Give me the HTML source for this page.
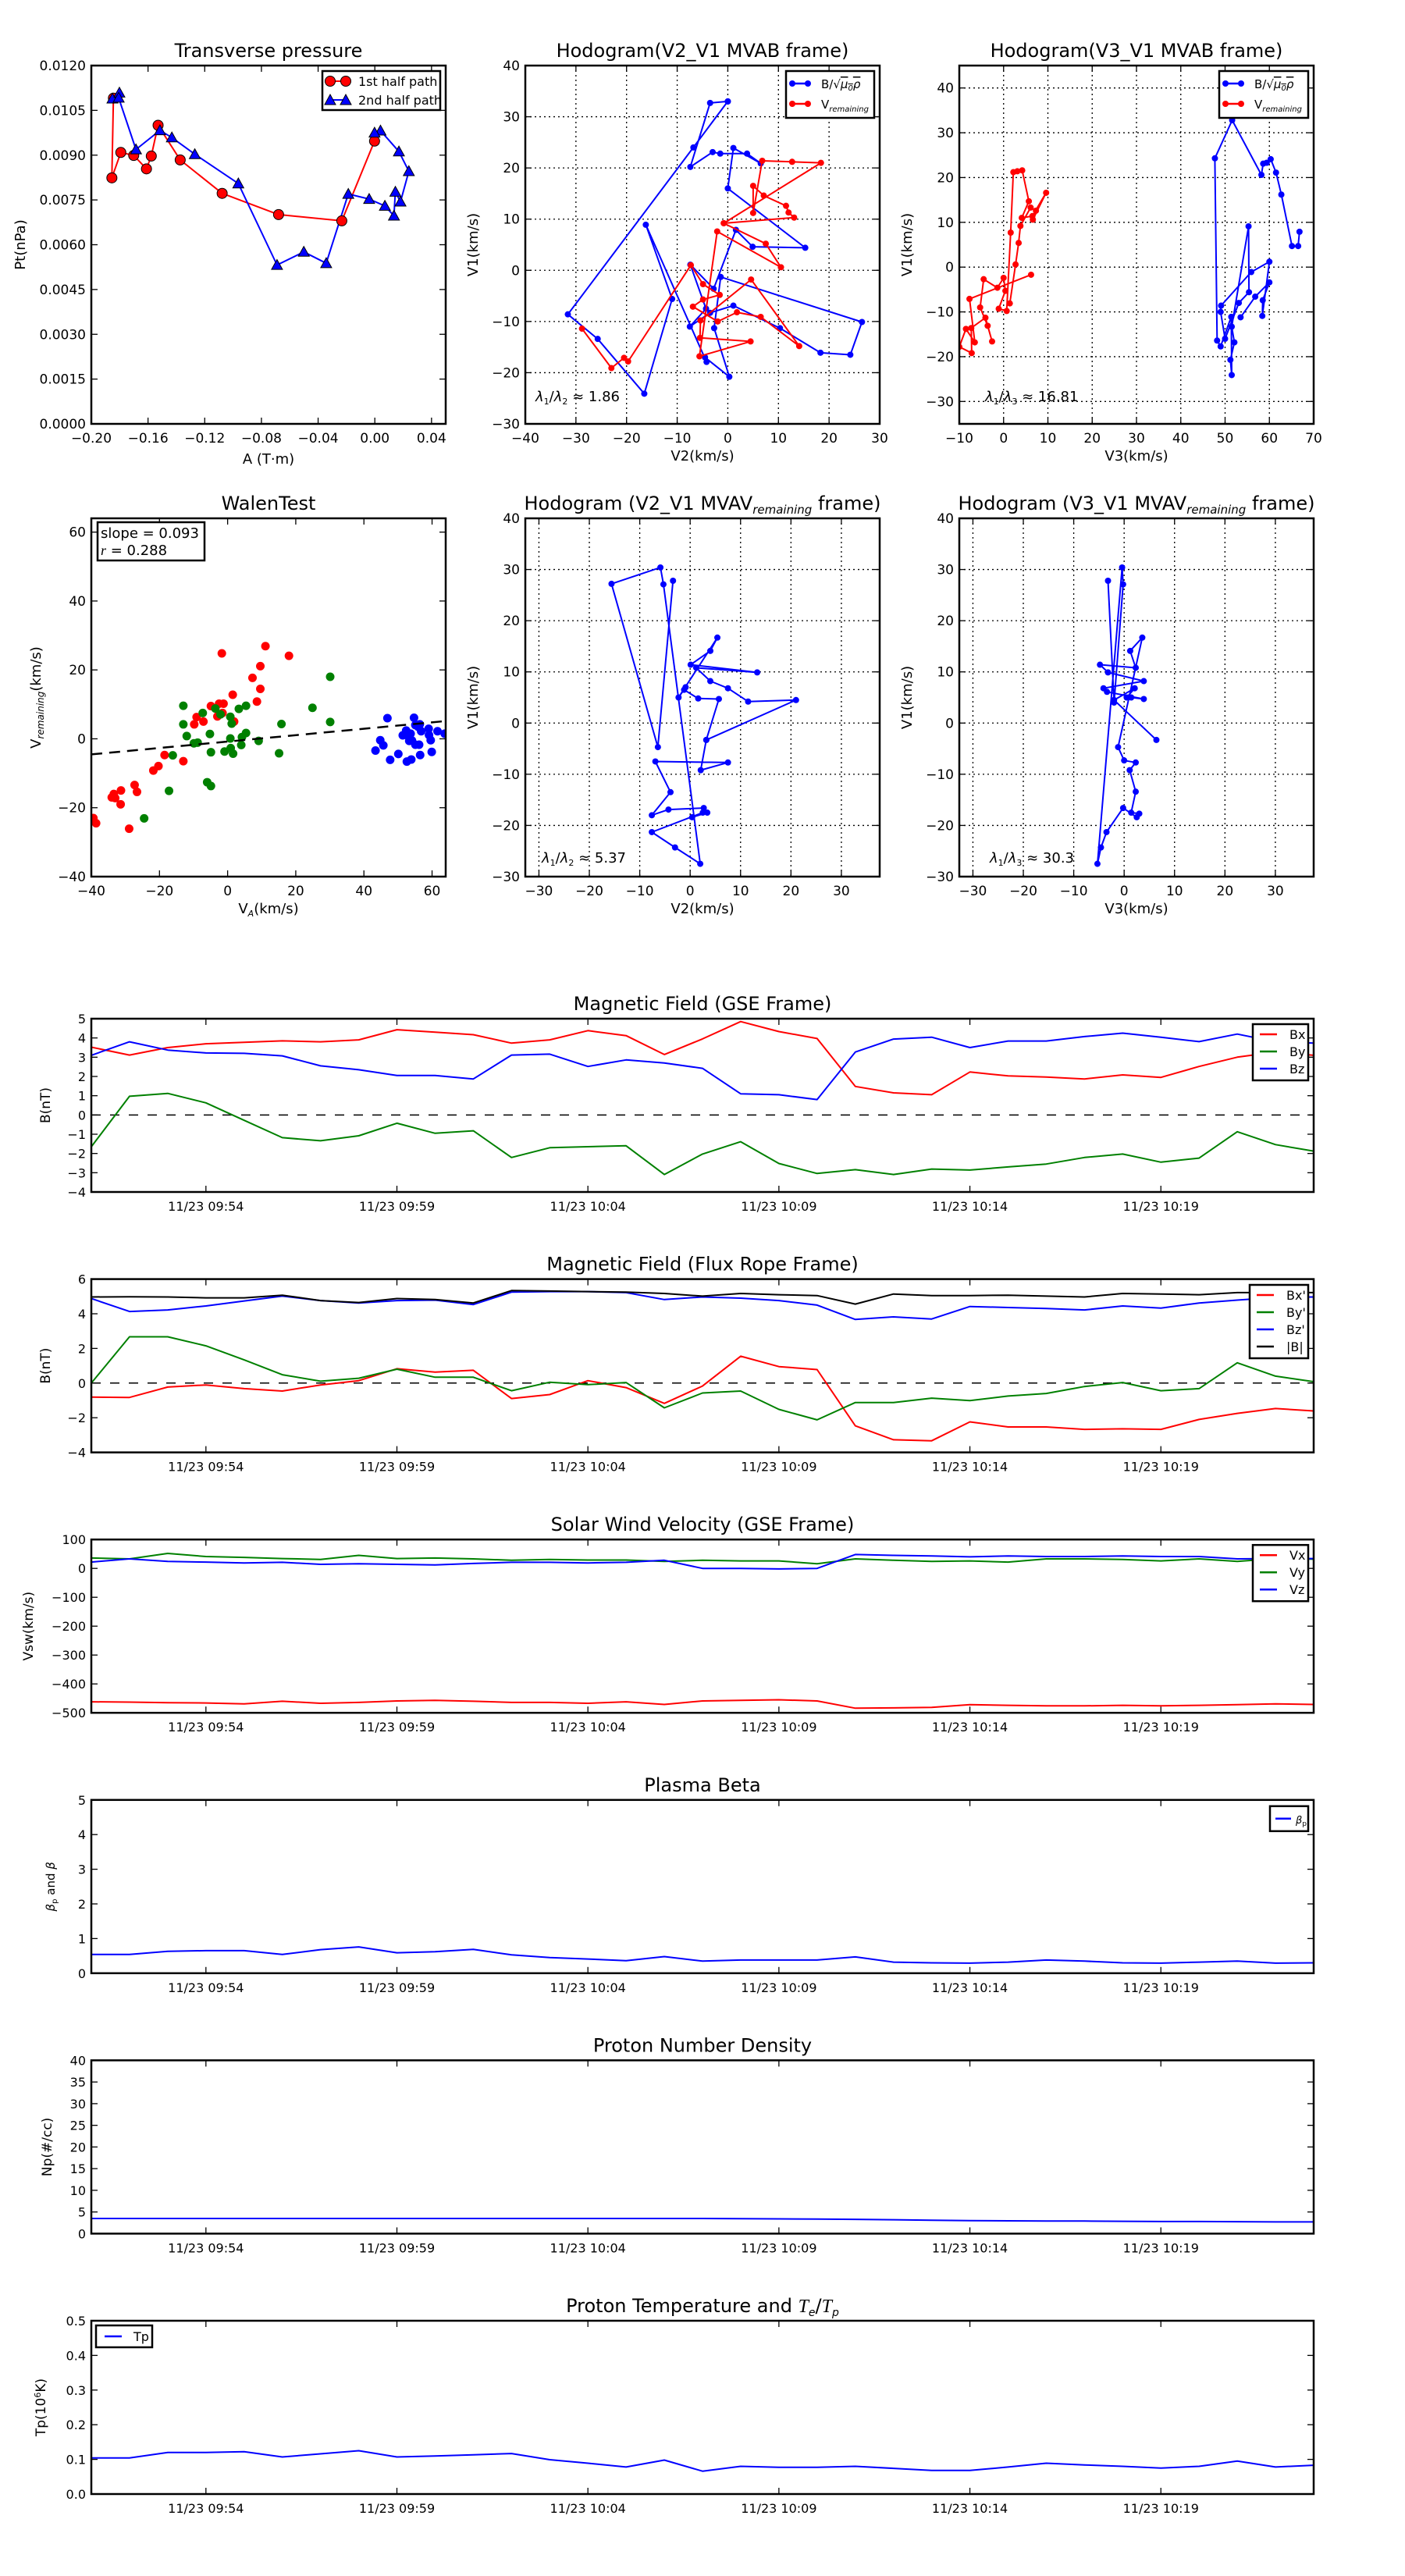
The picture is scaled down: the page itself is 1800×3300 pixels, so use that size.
<!DOCTYPE html>
<html><head><meta charset="utf-8"><title>Flux rope analysis</title>
<style>
html,body{margin:0;padding:0;background:#fff;}
svg{display:block;font-family:"DejaVu Sans","Liberation Sans",sans-serif;}
</style></head>
<body>
<svg id="fig" xmlns="http://www.w3.org/2000/svg" width="1800" height="3300" viewBox="0 0 1800 3300">
<rect x="0" y="0" width="1800" height="3300" fill="#fff"/>
<defs id="defs"></defs>
</svg>
<script>
// ===== Transverse pressure data =====
const tpA1 = [-0.1844,-0.1855,-0.1792,-0.1701,-0.1611,-0.1577,-0.1529,-0.1373,-0.1077,-0.0679,-0.0233,-0.0002];
const tpP1 = [0.01091,0.00824,0.00909,0.00899,0.00854,0.00897,0.01000,0.00884,0.00772,0.00701,0.00680,0.00947];
const tpA2 = [-0.1851,-0.1802,-0.1807,-0.1685,-0.1516,-0.1432,-0.1270,-0.0963,-0.0690,-0.0501,-0.0343,-0.0187,-0.0040,0.0071,0.0135,0.0145,0.0181,0.0240,0.0170,0.0040,-0.0002];
const tpP2 = [0.01089,0.01109,0.01092,0.00919,0.00983,0.00959,0.00903,0.00805,0.00532,0.00576,0.00538,0.00770,0.00753,0.00730,0.00697,0.00777,0.00744,0.00846,0.00912,0.00982,0.00975];

// ===== Hodogram V2-V1 MVAB =====
const h1BV2 = [0,-3.5,-7.4,-3,-1.5,3.8,6.5,1.1,0,15.3,4.9,1.6,-2.8,-7.4,-4.3,-7.5,-3.5,1.1,10.3,18.3,24.2,26.5,-1.4,-2.7,0.3,-4.5,-4.2,-16.2,-11,-16.5,-25.7,-31.6,-6.8,0];
const h1BV1 = [33,32.7,20.2,23.1,22.8,22.8,20.9,23.9,16,4.4,4.6,7.9,-3.6,1.1,-7.5,-11,-8.3,-6.9,-11.3,-16.1,-16.5,-10.1,-1.3,-11.3,-20.8,-17,-17.9,8.9,-5.6,-24.1,-13.4,-8.6,24,33];
const h1VV2 = [-28.8,-23,-20.5,-19.7,-7.3,-4.9,-1.6,-4.9,-6.9,-2,1.8,6.5,14.1,4.6,-5.4,-5.5,4.5,-5.6,-2.1,10.5,7.5,-0.8,13.1,12,11.5,7.1,5,5,6.8,12.7,18.4,-0.8];
const h1VV1 = [-11.4,-19.1,-17.1,-17.8,1.0,-2.7,-4.8,-5.7,-7.1,-10,-8.2,-9.1,-14.8,-1.8,-9.8,-13.2,-13.9,-16.8,7.6,0.6,5.2,9.2,10.3,11.3,12.6,14.6,16.5,11.2,21.4,21.2,21,9.2];

// ===== Hodogram V3-V1 MVAB =====
const h2BV3 = [66.8,66.5,65.1,62.7,61.5,60.3,59.4,58.6,58.2,51.6,47.7,48.2,49,51.4,51.5,51.2,52.1,51.5,55.3,55.4,53.1,50,49,49.1,55.9,60,58.4,58.5,60,56.8,53.5];
const h2BV1 = [7.9,4.7,4.7,16.2,21.1,24.1,23.3,23.1,20.6,32.8,24.3,-16.4,-17.7,-11.1,-24.1,-20.7,-16.8,-13.3,9.1,-5.6,-8,-16,-10,-8.6,-1.1,1.2,-10.9,-7.4,-3.4,-6.6,-11.2];
const h2VV3 = [6.2,-7.7,-6.5,-8.5,-10,-7.2,-7.3,-4.1,-2.6,-3.6,-5.3,-4.5,-1.4,0,0.4,-1.1,0.7,1.6,2.2,3.1,4.2,5.7,4.1,6.5,9.6,6.6,7.3,6.1,3.8,3.4,2.7,1.4];
const h2VV1 = [-1.7,-7.1,-16.8,-13.8,-17.8,-19.2,-13.6,-11.3,-16.6,-13.1,-9,-2.7,-4.6,-2.4,-5.3,-9.3,-9.8,7.7,21.2,21.4,21.6,14.7,11,11.4,16.6,10.6,12.6,13.3,9.2,5.4,0.6,-8.1];

// ===== Walen test =====
const wRedX = [-1.7,11.1,18.0,9.6,7.3,1.5,9.6,8.6,-4.9,-2.5,-1.2,-1.5,-3.0,1.9,-9.1,-7.1,-9.8,-18.5,-13.0,-20.3,-21.8,-27.3,-26.6,-31.3,-33.4,-34.0,-33.0,-31.4,-39.4,-38.6,-28.9];
const wRedY = [24.8,26.9,24.1,21.1,17.7,12.8,14.5,10.8,9.5,10.2,10.2,7.5,6.5,5.0,6.3,5.0,4.2,-4.7,-6.5,-7.9,-9.2,-13.4,-15.4,-15.0,-16.0,-17.0,-17.2,-19.0,-23.0,-24.5,-26.1];
const wGreenX = [30.1,24.9,30.1,15.8,15.1,5.4,3.3,-3.6,-7.3,-2.1,0.8,1.2,-13.0,-13.0,-12.0,-5.2,5.4,0.8,4.2,9.1,-9.9,-8.8,-4.9,-0.9,0.9,1.6,4.0,-16.1,-17.2,-6.0,-4.9,-24.5];
const wGreenY = [18.0,9.0,4.9,4.3,-4.2,9.6,8.7,8.8,7.5,7.1,6.4,4.4,9.6,4.2,0.8,1.4,1.7,0.1,0.5,-0.6,-1.3,-1.1,-3.9,-3.7,-2.7,-4.3,-1.8,-4.8,-15.1,-12.6,-13.7,-23.1];
const wBlueX = [46.9,54.7,43.4,44.8,45.7,47.7,50.1,52.6,53.9,56.5,59.9,51.4,52.4,53.1,53.7,54.1,55.1,56.2,59.6,59.1,59.0,61.6,63.7,56.8,55.9,55.1,56.4,53.3];
const wBlueY = [6.0,6.1,-3.4,-0.4,-1.9,-6.1,-4.4,-6.6,-6.0,-4.7,-3.8,1.0,2.4,0.7,1.5,-0.5,-1.7,-1.7,-0.4,1.1,2.9,2.2,1.5,2.2,3.5,4.0,4.2,-0.6];
const wSlope = 0.093;
const wIntercept = -0.8;
const wR = 0.288;

// ===== Hodogram MVAV (V2) =====
const h3V2 = [-3.4,-6.4,-15.6,-5.9,-5.3,2,-3,-7.6,2.5,0.4,3.4,2.7,-4.3,-7.6,-3.9,-6.9,7.5,2.1,3.2,21,11.5,7.5,4,1.2,13.3,0.1,4,5.4,-2.3,-0.9,-1.2,1.6,5.7,3.2];
const h3V1 = [27.8,-4.7,27.2,30.4,27.1,-27.5,-24.3,-21.3,-17.5,-18.4,-17.5,-16.6,-16.9,-18,-13.5,-7.5,-7.7,-9.2,-3.3,4.5,4.2,6.8,8.2,10.8,9.9,11.4,14.1,16.7,5,7,6.5,4.8,4.7,-3.3];
// ===== Hodogram MVAV (V3) =====
const h4V3 = [-3.2,-2,-0.2,-0.4,-5.3,-4.6,-3.5,-0.2,2.5,3,1.4,2.3,1.1,2.3,0,-1.2,3.6,1.2,2.3,-4.8,-3.2,3.9,-4.1,-3.4,3.9,1.4,0.5,2.1,-2,6.4];
const h4V1 = [27.8,4.0,27.1,30.4,-27.5,-24.3,-21.3,-16.6,-18.4,-17.7,-17.5,-13.4,-9.2,-7.7,-7.3,-4.7,16.7,14.1,10.8,11.4,9.9,8.2,6.8,6.1,4.7,5,5,6.8,4.5,-3.3];

// ===== Time series (minutes since 09:51, 1-min cadence) =====
const tMinutes = [0,1,2,3,4,5,6,7,8,9,10,11,12,13,14,15,16,17,18,19,20,21,22,23,24,25,26,27,28,29,30,31,32];
const timeTickMin = [3,8,13,18,23,28];
const timeTickLabels = ["11/23 09:54","11/23 09:59","11/23 10:04","11/23 10:09","11/23 10:14","11/23 10:19"];
const gseBx = [3.52,3.11,3.5,3.7,3.77,3.85,3.8,3.9,4.43,4.3,4.17,3.73,3.9,4.38,4.12,3.14,3.95,4.85,4.33,3.97,1.48,1.15,1.05,2.23,2.03,1.97,1.87,2.08,1.95,2.52,3.0,3.27,3.1];
const gseBy = [-1.65,0.97,1.12,0.63,-0.28,-1.18,-1.34,-1.08,-0.43,-0.95,-0.82,-2.21,-1.7,-1.65,-1.6,-3.09,-2.03,-1.39,-2.52,-3.04,-2.84,-3.09,-2.81,-2.86,-2.7,-2.55,-2.21,-2.03,-2.45,-2.24,-0.87,-1.54,-1.88];
const gseBz = [3.1,3.8,3.37,3.22,3.2,3.07,2.55,2.35,2.05,2.05,1.87,3.11,3.16,2.52,2.86,2.7,2.42,1.1,1.05,0.8,3.27,3.94,4.04,3.5,3.84,3.84,4.07,4.25,4.04,3.81,4.2,3.8,3.73];
const frBx = [-0.81,-0.83,-0.23,-0.11,-0.32,-0.46,-0.11,0.14,0.83,0.63,0.74,-0.89,-0.66,0.14,-0.26,-1.17,-0.17,1.55,0.95,0.78,-2.47,-3.27,-3.33,-2.24,-2.53,-2.53,-2.67,-2.64,-2.67,-2.1,-1.75,-1.47,-1.61];
const frBy = [0.0,2.67,2.67,2.15,1.34,0.48,0.11,0.28,0.8,0.34,0.34,-0.44,0.05,-0.09,0.03,-1.43,-0.57,-0.46,-1.52,-2.12,-1.12,-1.12,-0.87,-1.01,-0.75,-0.6,-0.2,0.03,-0.44,-0.32,1.17,0.4,0.08];
const frBz = [4.88,4.13,4.22,4.45,4.74,5.02,4.76,4.62,4.76,4.79,4.53,5.25,5.28,5.28,5.22,4.82,4.97,4.9,4.76,4.5,3.67,3.82,3.7,4.42,4.36,4.3,4.22,4.45,4.33,4.62,4.79,4.94,4.97];
const frBt = [4.97,4.98,4.97,4.92,4.92,5.07,4.76,4.65,4.88,4.82,4.62,5.34,5.31,5.28,5.25,5.17,5.02,5.17,5.1,5.05,4.56,5.14,5.05,5.05,5.07,5.02,4.97,5.17,5.14,5.1,5.22,5.22,5.22];
const velVx = [-462,-463,-465,-466,-469,-460,-467,-464,-459,-457,-460,-464,-464,-467,-462,-471,-459,-457,-455,-459,-484,-483,-481,-472,-474,-476,-476,-474,-476,-474,-472,-469,-471];
const velVy = [36,33,52,41,38,34,31,45,34,36,33,28,31,29,29,24,28,26,26,16,33,28,24,26,22,33,33,31,26,33,24,34,32];
const velVz = [22,33,24,22,19,21,14,16,14,12,17,21,21,19,21,28,0,0,-2,0,48,45,43,40,43,41,41,43,41,41,33,34,34];
const betaP = [0.54,0.54,0.63,0.65,0.65,0.54,0.68,0.76,0.59,0.62,0.69,0.53,0.45,0.41,0.36,0.48,0.35,0.38,0.38,0.38,0.47,0.32,0.3,0.29,0.32,0.38,0.35,0.3,0.29,0.32,0.35,0.29,0.3];
const densNp = [3.5,3.5,3.5,3.5,3.5,3.5,3.5,3.5,3.5,3.5,3.5,3.5,3.5,3.5,3.5,3.5,3.5,3.45,3.4,3.35,3.3,3.2,3.1,3.0,2.95,2.9,2.9,2.85,2.8,2.8,2.75,2.7,2.7];
const tempTp = [0.104,0.104,0.12,0.12,0.122,0.107,0.116,0.125,0.107,0.11,0.113,0.117,0.099,0.089,0.078,0.098,0.066,0.08,0.077,0.077,0.08,0.074,0.068,0.068,0.078,0.089,0.084,0.08,0.075,0.08,0.095,0.078,0.083];

const NS = 'http://www.w3.org/2000/svg';
const svg = document.getElementById('fig');
const defs = document.getElementById('defs');
let clipN = 0;
function mk(tag, attrs, parent) {
  const e = document.createElementNS(NS, tag);
  for (const k in attrs) e.setAttribute(k, attrs[k]);
  (parent || svg).appendChild(e);
  return e;
}
function txt(parent, x, y, s, size, anchor) {
  const t = mk('text', {x: x, y: y, 'font-size': size, 'text-anchor': anchor || 'start', fill: '#000'}, parent);
  t.textContent = s;
  return t;
}
function fmt(v, dec) { return v.toFixed(dec).replace('-', '\u2212'); }
function range(a, b, s) { const r = []; for (let v = a; v <= b + s * 1e-6; v += s) r.push(Math.round(v / s) * s); return r; }

function makeAxes(c) {
  const g = mk('g', {});
  
  
  const sx = v => c.x + (v - c.xmin) / (c.xmax - c.xmin) * c.w;
  const sy = v => c.y + c.h - (v - c.ymin) / (c.ymax - c.ymin) * c.h;
  const xt = c.xticks, yt = c.yticks;
  if (c.grid) {
    xt.forEach(v => { const l = mk('line', {x1: sx(v), x2: sx(v), y1: c.y, y2: c.y + c.h, stroke: '#000', 'stroke-width': 1.3, 'stroke-dasharray': '2,4'}, g);
        });
    yt.forEach(v => { const l = mk('line', {x1: c.x, x2: c.x + c.w, y1: sy(v), y2: sy(v), stroke: '#000', 'stroke-width': 1.3, 'stroke-dasharray': '2,4'}, g);
        });
  }
  const tl = 8;
  xt.forEach((v, i) => {
    const X = sx(v);
    mk('line', {x1: X, x2: X, y1: c.y + c.h, y2: c.y + c.h - tl, stroke: '#000', 'stroke-width': 1.3}, g);
    mk('line', {x1: X, x2: X, y1: c.y, y2: c.y + tl, stroke: '#000', 'stroke-width': 1.3}, g);
    const lab = c.xlabels ? c.xlabels[i] : fmt(v, c.xdec || 0);
    const t = txt(g, X, c.y + c.h + 24, lab, c.tickSize || 17, 'middle');
    
    
  });
  yt.forEach(v => {
    const Y = sy(v);
    mk('line', {x1: c.x, x2: c.x + tl, y1: Y, y2: Y, stroke: '#000', 'stroke-width': 1.3}, g);
    mk('line', {x1: c.x + c.w, x2: c.x + c.w - tl, y1: Y, y2: Y, stroke: '#000', 'stroke-width': 1.3}, g);
    const t = txt(g, c.x - 7, Y + 6, fmt(v, c.ydec || 0), c.tickSize || 17, 'end');
    
    
  });
  const cid = 'clip' + (++clipN);
  const cp = mk('clipPath', {id: cid}, defs);
  mk('rect', {x: c.x, y: c.y, width: c.w, height: c.h}, cp);
  const data = mk('g', {'clip-path': 'url(#' + cid + ')'}, g);
  
  
  if (c.title) {
    const t = txt(g, c.x + c.w / 2, c.y - 11, '', 24, 'middle');
    t.innerHTML = c.title;
    
    
  }
  if (c.xlabel) {
    const t = txt(g, c.x + c.w / 2, c.xlabelY, '', 18, 'middle');
    t.innerHTML = c.xlabel;
    
    
  }
  if (c.ylabel) {
    const cy = c.y + c.h / 2;
    const t = txt(g, c.ylabelX, cy, '', c.ylabelSize || 18, 'middle');
    t.setAttribute('transform', 'rotate(-90 ' + c.ylabelX + ' ' + cy + ')');
    t.innerHTML = c.ylabel;
    
    
  }
  function finish() {
    const f = mk('rect', {x: c.x, y: c.y, width: c.w, height: c.h, fill: 'none', stroke: '#000', 'stroke-width': 2.5}, g);
    
    
  }
  return {g, data, sx, sy, finish, c};
}
function polyline(ax, xs, ys, color, width, name) {
  const pts = xs.map((x, i) => ax.sx(x).toFixed(1) + ',' + ax.sy(ys[i]).toFixed(1)).join(' ');
  const p = mk('polyline', {points: pts, fill: 'none', stroke: color, 'stroke-width': width || 2, 'stroke-linejoin': 'round'}, ax.data);
  
  
  return p;
}
function dots(ax, xs, ys, color, r, name, edge) {
  xs.forEach((x, i) => {
    const d = mk('circle', {cx: ax.sx(x), cy: ax.sy(ys[i]), r: r, fill: color, stroke: edge ? '#000' : 'none', 'stroke-width': edge ? 1 : 0}, ax.data);
    
    
  });
}
function tris(ax, xs, ys, color, s, name) {
  xs.forEach((x, i) => {
    const X = ax.sx(x), Y = ax.sy(ys[i]);
    const d = mk('polygon', {points: X + ',' + (Y - s) + ' ' + (X - s) + ',' + (Y + s * 0.8) + ' ' + (X + s) + ',' + (Y + s * 0.8), fill: color, stroke: '#000', 'stroke-width': 1}, ax.data);
    
    
  });
}
function legendBox(ax, x, y, w, h) {
  const b = mk('rect', {x: x, y: y, width: w, height: h, fill: '#fff', stroke: '#000', 'stroke-width': 2.5}, ax.g);
  
  
}
function legendLine(ax, x1, x2, y, color, label, tx, size, marker) {
  const l = mk('line', {x1: x1, x2: x2, y1: y, y2: y, stroke: color, 'stroke-width': 2.5}, ax.g);
  
  
  if (marker) [x1, x2].forEach(mx => mk('circle', {cx: mx, cy: y, r: marker, fill: color, stroke: 'none'}, ax.g));
  const t = txt(ax.g, tx, y + 6, '', size || 16, 'start');
  t.innerHTML = label;
  
  
}

// ---------------- Row 1 ----------------
const colX = [117, 673, 1229], colW = 454, row1Y = 84, row2Y = 664, rowH = 459;

// Transverse pressure
const axTP = makeAxes({name: 'transverse-pressure-chart', x: colX[0], y: row1Y, w: colW, h: rowH,
  xmin: -0.2, xmax: 0.05, ymin: 0, ymax: 0.012, xticks: range(-0.2, 0.04, 0.04), yticks: range(0, 0.012, 0.0015),
  xdec: 2, ydec: 4, title: 'Transverse pressure', xlabel: 'A (T\u00b7m)', xlabelY: 594, ylabel: 'Pt(nPa)', ylabelX: 32});
polyline(axTP, tpA1, tpP1, '#ff0000', 2, 'first-half-path-line');
polyline(axTP, tpA2, tpP2, '#0000ff', 2, 'second-half-path-line');
dots(axTP, tpA1, tpP1, '#ff0000', 6.5, 'first-half-point', true);
tris(axTP, tpA2, tpP2, '#0000ff', 7, 'second-half-point');
axTP.finish();
legendBox(axTP, 413, 91, 151, 50);
(function () {
  const l = mk('line', {x1: 423, x2: 443, y1: 104, y2: 104, stroke: '#ff0000', 'stroke-width': 2}, axTP.g);
   
  [423, 443].forEach(mx => mk('circle', {cx: mx, cy: 104, r: 6.5, fill: '#ff0000', stroke: '#000', 'stroke-width': 1}, axTP.g));
  const t1 = txt(axTP.g, 459, 110, '1st half path', 16, 'start');
   
  const l2 = mk('line', {x1: 423, x2: 443, y1: 128, y2: 128, stroke: '#0000ff', 'stroke-width': 2}, axTP.g);
   
  [423, 443].forEach(mx => mk('polygon', {points: mx + ',' + 121 + ' ' + (mx - 7) + ',' + 134 + ' ' + (mx + 7) + ',' + 134, fill: '#0000ff', stroke: '#000', 'stroke-width': 1}, axTP.g));
  const t2 = txt(axTP.g, 459, 134, '2nd half path', 16, 'start');
   
})();

const bLabel = 'B/\u221a<tspan text-decoration="overline" font-style="italic">\u03bc<tspan font-size="10" dy="3">0</tspan><tspan dy="-3">\u03c1</tspan></tspan>';
const vLabel = 'V<tspan font-size="10" font-style="italic" dy="4">remaining</tspan>';

// Hodogram V2_V1 MVAB
const axH1 = makeAxes({name: 'hodogram-v2-v1-mvab', x: colX[1], y: row1Y, w: colW, h: rowH,
  xmin: -40, xmax: 30, ymin: -30, ymax: 40, xticks: range(-40, 30, 10), yticks: range(-30, 40, 10), grid: true,
  title: 'Hodogram(V2_V1 MVAB frame)', xlabel: 'V2(km/s)', xlabelY: 590, ylabel: 'V1(km/s)', ylabelX: 612});
polyline(axH1, h1BV2, h1BV1, '#0000ff', 2, 'b-alfven-path');
dots(axH1, h1BV2, h1BV1, '#0000ff', 4, 'b-alfven-point');
polyline(axH1, h1VV2, h1VV1, '#ff0000', 2, 'v-remaining-path');
dots(axH1, h1VV2, h1VV1, '#ff0000', 4, 'v-remaining-point');
axH1.finish();
legendBox(axH1, 1007, 91, 113, 60);
legendLine(axH1, 1015, 1035, 107, '#0000ff', bLabel, 1052, 15, 4);
legendLine(axH1, 1015, 1035, 133, '#ff0000', vLabel, 1052, 15, 4);
(function(){ const t = txt(axH1.g, 686, 514, '', 18, 'start');
  t.innerHTML = '<tspan font-style="italic">\u03bb</tspan><tspan font-size="11" dy="4">1</tspan><tspan dy="-4">/</tspan><tspan font-style="italic">\u03bb</tspan><tspan font-size="11" dy="4">2</tspan><tspan dy="-4"> \u2248 1.86</tspan>';
    })();

// Hodogram V3_V1 MVAB
const axH2 = makeAxes({name: 'hodogram-v3-v1-mvab', x: colX[2], y: row1Y, w: colW, h: rowH,
  xmin: -10, xmax: 70, ymin: -35, ymax: 45, xticks: range(-10, 70, 10), yticks: range(-30, 40, 10), grid: true,
  title: 'Hodogram(V3_V1 MVAB frame)', xlabel: 'V3(km/s)', xlabelY: 590, ylabel: 'V1(km/s)', ylabelX: 1168});
polyline(axH2, h2BV3, h2BV1, '#0000ff', 2, 'b-alfven-path');
dots(axH2, h2BV3, h2BV1, '#0000ff', 4, 'b-alfven-point');
polyline(axH2, h2VV3, h2VV1, '#ff0000', 2, 'v-remaining-path');
dots(axH2, h2VV3, h2VV1, '#ff0000', 4, 'v-remaining-point');
axH2.finish();
legendBox(axH2, 1562, 91, 114, 60);
legendLine(axH2, 1570, 1590, 107, '#0000ff', bLabel, 1607, 15, 4);
legendLine(axH2, 1570, 1590, 133, '#ff0000', vLabel, 1607, 15, 4);
(function(){ const t = txt(axH2.g, 1262, 514, '', 18, 'start');
  t.innerHTML = '<tspan font-style="italic">\u03bb</tspan><tspan font-size="11" dy="4">1</tspan><tspan dy="-4">/</tspan><tspan font-style="italic">\u03bb</tspan><tspan font-size="11" dy="4">3</tspan><tspan dy="-4"> \u2248 16.81</tspan>';
    })();

// ---------------- Row 2 ----------------
const axW = makeAxes({name: 'walen-test-chart', x: colX[0], y: row2Y, w: colW, h: rowH,
  xmin: -40, xmax: 64, ymin: -40, ymax: 64, xticks: range(-40, 60, 20), yticks: range(-40, 60, 20),
  title: 'WalenTest', xlabel: 'V<tspan font-size="11" font-style="italic" dy="4">A</tspan><tspan dy="-4">(km/s)</tspan>', xlabelY: 1170,
  ylabel: vLabel.replace('font-size="10"', 'font-size="12"') + '<tspan dy="-4">(km/s)</tspan>', ylabelX: 52});
dots(axW, wRedX, wRedY, '#ff0000', 5.5, 'walen-point-x');
dots(axW, wGreenX, wGreenY, '#008000', 5.5, 'walen-point-y');
dots(axW, wBlueX, wBlueY, '#0000ff', 5.5, 'walen-point-z');
(function(){ const l = mk('line', {x1: axW.sx(-40), x2: axW.sx(64), y1: axW.sy(wSlope * -40 + wIntercept), y2: axW.sy(wSlope * 64 + wIntercept), stroke: '#000', 'stroke-width': 2.5, 'stroke-dasharray': '14,9'}, axW.data);
    })();
axW.finish();
legendBox(axW, 125, 669, 137, 49);
(function(){ const t1 = txt(axW.g, 129, 689, 'slope = ' + wSlope.toFixed(3), 18, 'start');
   
  const t2 = txt(axW.g, 129, 711, '', 18, 'start');
  t2.innerHTML = '<tspan font-style="italic" font-family="Liberation Serif, serif">r</tspan> = ' + wR.toFixed(3);
    })();

const axH3 = makeAxes({name: 'hodogram-v2-v1-mvav', x: colX[1], y: row2Y, w: colW, h: rowH,
  xmin: -32.7, xmax: 37.6, ymin: -30, ymax: 40, xticks: range(-30, 30, 10), yticks: range(-30, 40, 10), grid: true,
  title: 'Hodogram (V2_V1 MVAV<tspan font-size="15" font-style="italic" dy="5">remaining</tspan><tspan dy="-5"> frame)</tspan>',
  xlabel: 'V2(km/s)', xlabelY: 1170, ylabel: 'V1(km/s)', ylabelX: 612});
polyline(axH3, h3V2, h3V1, '#0000ff', 2, 'b-alfven-path');
dots(axH3, h3V2, h3V1, '#0000ff', 4, 'b-alfven-point');
axH3.finish();
(function(){ const t = txt(axH3.g, 694, 1105, '', 18, 'start');
  t.innerHTML = '<tspan font-style="italic">\u03bb</tspan><tspan font-size="11" dy="4">1</tspan><tspan dy="-4">/</tspan><tspan font-style="italic">\u03bb</tspan><tspan font-size="11" dy="4">2</tspan><tspan dy="-4"> \u2248 5.37</tspan>';
    })();

const axH4 = makeAxes({name: 'hodogram-v3-v1-mvav', x: colX[2], y: row2Y, w: colW, h: rowH,
  xmin: -32.7, xmax: 37.6, ymin: -30, ymax: 40, xticks: range(-30, 30, 10), yticks: range(-30, 40, 10), grid: true,
  title: 'Hodogram (V3_V1 MVAV<tspan font-size="15" font-style="italic" dy="5">remaining</tspan><tspan dy="-5"> frame)</tspan>',
  xlabel: 'V3(km/s)', xlabelY: 1170, ylabel: 'V1(km/s)', ylabelX: 1168});
polyline(axH4, h4V3, h4V1, '#0000ff', 2, 'b-alfven-path');
dots(axH4, h4V3, h4V1, '#0000ff', 4, 'b-alfven-point');
axH4.finish();
(function(){ const t = txt(axH4.g, 1268, 1105, '', 18, 'start');
  t.innerHTML = '<tspan font-style="italic">\u03bb</tspan><tspan font-size="11" dy="4">1</tspan><tspan dy="-4">/</tspan><tspan font-style="italic">\u03bb</tspan><tspan font-size="11" dy="4">3</tspan><tspan dy="-4"> \u2248 30.3</tspan>';
    })();

// ---------------- Time series ----------------
const tsX = 117, tsW = 1566, tsH = 222, tsTop = 1305, tsStep = 333.6;
function tsAxes(i, name, title, ymin, ymax, yticks, ydec, ylabel, ylabelX, ylabelSize) {
  return makeAxes({name: name, x: tsX, y: tsTop + i * tsStep, w: tsW, h: tsH, xmin: 0, xmax: 32, ymin: ymin, ymax: ymax,
    xticks: timeTickMin, xlabels: timeTickLabels, yticks: yticks, ydec: ydec, tickSize: 16,
    title: title, ylabel: ylabel, ylabelX: ylabelX, ylabelSize: ylabelSize || 17});
}
function zeroLine(ax) {
  const l = mk('line', {x1: ax.c.x, x2: ax.c.x + ax.c.w, y1: ax.sy(0), y2: ax.sy(0), stroke: '#000', 'stroke-width': 1.5, 'stroke-dasharray': '12,12'}, ax.data);
   
}

const ax1 = tsAxes(0, 'magnetic-field-gse-chart', 'Magnetic Field (GSE Frame)', -4, 5, range(-4, 5, 1), 0, 'B(nT)', 64);
zeroLine(ax1);
polyline(ax1, tMinutes, gseBx, '#ff0000', 2, 'bx-line');
polyline(ax1, tMinutes, gseBy, '#008000', 2, 'by-line');
polyline(ax1, tMinutes, gseBz, '#0000ff', 2, 'bz-line');
ax1.finish();
legendBox(ax1, 1605, 1312, 71, 72);
legendLine(ax1, 1614, 1636, 1325, '#ff0000', 'Bx', 1652);
legendLine(ax1, 1614, 1636, 1347, '#008000', 'By', 1652);
legendLine(ax1, 1614, 1636, 1369, '#0000ff', 'Bz', 1652);

const ax2 = tsAxes(1, 'magnetic-field-flux-rope-chart', 'Magnetic Field (Flux Rope Frame)', -4, 6, range(-4, 6, 2), 0, 'B(nT)', 64);
zeroLine(ax2);
polyline(ax2, tMinutes, frBx, '#ff0000', 2, 'bx-prime-line');
polyline(ax2, tMinutes, frBy, '#008000', 2, 'by-prime-line');
polyline(ax2, tMinutes, frBz, '#0000ff', 2, 'bz-prime-line');
polyline(ax2, tMinutes, frBt, '#000000', 2, 'b-magnitude-line');
ax2.finish();
legendBox(ax2, 1601, 1646, 75, 94);
legendLine(ax2, 1610, 1632, 1659, '#ff0000', "Bx'", 1648);
legendLine(ax2, 1610, 1632, 1681, '#008000', "By'", 1648);
legendLine(ax2, 1610, 1632, 1703, '#0000ff', "Bz'", 1648);
legendLine(ax2, 1610, 1632, 1725, '#000000', '|B|', 1648);

const ax3 = tsAxes(2, 'solar-wind-velocity-chart', 'Solar Wind Velocity (GSE Frame)', -500, 100, range(-500, 100, 100), 0, 'Vsw(km/s)', 42);
polyline(ax3, tMinutes, velVx, '#ff0000', 2, 'vx-line');
polyline(ax3, tMinutes, velVy, '#008000', 2, 'vy-line');
polyline(ax3, tMinutes, velVz, '#0000ff', 2, 'vz-line');
ax3.finish();
const y3 = tsTop + 2 * tsStep;
legendBox(ax3, 1605, y3 + 7, 71, 72);
legendLine(ax3, 1614, 1636, y3 + 20, '#ff0000', 'Vx', 1652);
legendLine(ax3, 1614, 1636, y3 + 42, '#008000', 'Vy', 1652);
legendLine(ax3, 1614, 1636, y3 + 64, '#0000ff', 'Vz', 1652);

const ax4 = tsAxes(3, 'plasma-beta-chart', 'Plasma Beta', 0, 5, range(0, 5, 1), 0,
  '<tspan font-style="italic">\u03b2</tspan><tspan font-size="10" dy="3">p</tspan><tspan dy="-3"> and </tspan><tspan font-style="italic">\u03b2</tspan>', 70, 15);
polyline(ax4, tMinutes, betaP, '#0000ff', 2, 'beta-p-line');
ax4.finish();
const y4 = tsTop + 3 * tsStep;
legendBox(ax4, 1627, y4 + 8, 49, 32);
legendLine(ax4, 1634, 1654, y4 + 24, '#0000ff', '<tspan font-style="italic">\u03b2</tspan><tspan font-size="9" dy="3">p</tspan>', 1660, 13);

const ax5 = tsAxes(4, 'proton-density-chart', 'Proton Number Density', 0, 40, range(0, 40, 5), 0, 'Np(#/cc)', 66);
polyline(ax5, tMinutes, densNp, '#0000ff', 2, 'density-line');
ax5.finish();

const ax6 = tsAxes(5, 'proton-temperature-chart', 'Proton Temperature and <tspan font-style="italic" font-family="Liberation Serif, serif">T</tspan><tspan font-size="14" font-style="italic" dy="5">e</tspan><tspan dy="-5">/</tspan><tspan font-style="italic" font-family="Liberation Serif, serif">T</tspan><tspan font-size="14" font-style="italic" dy="5">p</tspan>',
  0, 0.5, range(0, 0.5, 0.1), 1, 'Tp(10<tspan font-size="11" dy="-6">6</tspan><tspan dy="6">K)</tspan>', 58);
polyline(ax6, tMinutes, tempTp, '#0000ff', 2, 'tp-line');
ax6.finish();
const y6 = tsTop + 5 * tsStep;
legendBox(ax6, 123, y6 + 6, 72, 28);
legendLine(ax6, 134, 156, y6 + 20, '#0000ff', 'Tp', 171);
</script>
</body></html>
